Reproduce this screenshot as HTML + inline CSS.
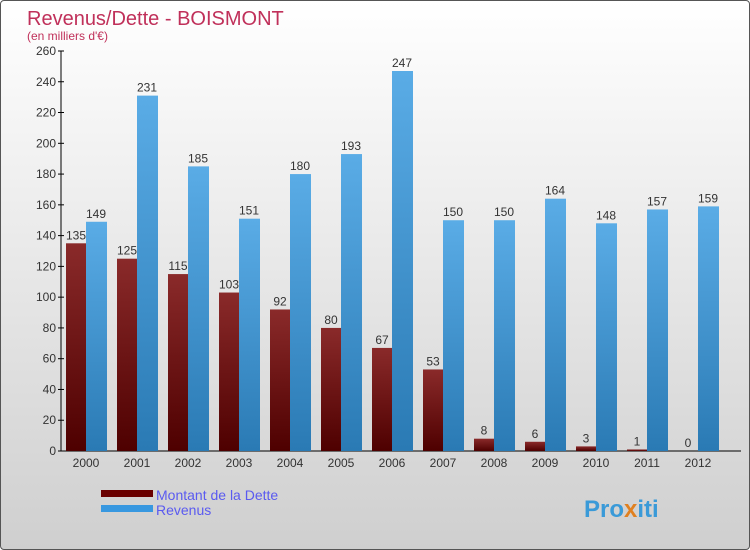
<!DOCTYPE html>
<html><head><meta charset="utf-8"><style>
body{margin:0}
#wrap{position:relative;width:748px;height:548px;border:1px solid #555;border-radius:4px;background:linear-gradient(#ffffff,#cfcfcf);overflow:hidden;font-family:"Liberation Sans",sans-serif}
svg text{font-family:"Liberation Sans",sans-serif}
</style></head><body>
<div id="wrap">
<svg id="c" width="748" height="548">
<defs>
<linearGradient id="gd" x1="0" y1="0" x2="0" y2="1"><stop offset="0" stop-color="#8a2a2a"/><stop offset="1" stop-color="#4e0000"/></linearGradient>
<linearGradient id="gr" x1="0" y1="0" x2="0" y2="1"><stop offset="0" stop-color="#5aace6"/><stop offset="1" stop-color="#2a7ab4"/></linearGradient>
</defs>
<text x="26" y="24" font-size="20" fill="#c0305a">Revenus/Dette - BOISMONT</text>
<text x="26" y="39" font-size="12" fill="#c0305a">(en milliers d'€)</text>
<g id="plot"></g>
<rect x="100" y="489" width="52" height="7" fill="#6a0000"/>
<text x="155" y="499" font-size="14" fill="#5a5af0">Montant de la Dette</text>
<rect x="100" y="504" width="52" height="7" fill="#3898e0"/>
<text x="155" y="514" font-size="14" fill="#5a5af0">Revenus</text>
<text x="583" y="516" font-size="24" font-weight="bold" fill="#3a9ad8">Pro<tspan fill="#e08020">x</tspan>iti</text>
</svg>
</div>
<script>
const years=["2000","2001","2002","2003","2004","2005","2006","2007","2008","2009","2010","2011","2012"];
const dette=[135,125,115,103,92,80,67,53,8,6,3,1,0];
const revenus=[149,231,185,151,180,193,247,150,150,164,148,157,159];
const ticks=[0,20,40,60,80,100,120,140,160,180,200,220,240,260];
const NS="http://www.w3.org/2000/svg";
const g=document.getElementById('plot');
const y=v=>450-v*400/260;
const xc=i=>85+i*51;
function mk(t,a){const e=document.createElementNS(NS,t);for(const k in a)e.setAttribute(k,a[k]);g.appendChild(e);return e;}
let ax=mk('line',{x1:60,y1:50,x2:60,y2:450,stroke:'#000'});


let bx=mk('line',{x1:60,y1:450,x2:740,y2:450,stroke:'#000'});


ticks.forEach(t=>{
 let l=mk('line',{x1:57,y1:y(t),x2:63,y2:y(t),stroke:'#000'});
 
 
 let tx=mk('text',{x:55,y:y(t)+4,'font-size':12,'text-anchor':'end',fill:'#333'});
 tx.textContent=t;
 
 
});
years.forEach((yr,i)=>{
 const c=xc(i);
 let d=mk('rect',{x:c-20,y:y(dette[i]),width:20,height:450-y(dette[i]),fill:'url(#gd)'});
 
 
 let r=mk('rect',{x:c,y:y(revenus[i]),width:21,height:450-y(revenus[i]),fill:'url(#gr)'});
 
 
 let dl=mk('text',{x:c-10,y:y(dette[i])-4,'font-size':12,'text-anchor':'middle',fill:'#333'});
 dl.textContent=dette[i];
 
 
 let rl=mk('text',{x:c+10,y:y(revenus[i])-4,'font-size':12,'text-anchor':'middle',fill:'#333'});
 rl.textContent=revenus[i];
 
 
 let xl=mk('text',{x:c,y:466,'font-size':12,'text-anchor':'middle',fill:'#333'});
 xl.textContent=yr;
 
 
});
</script>
</body></html>
